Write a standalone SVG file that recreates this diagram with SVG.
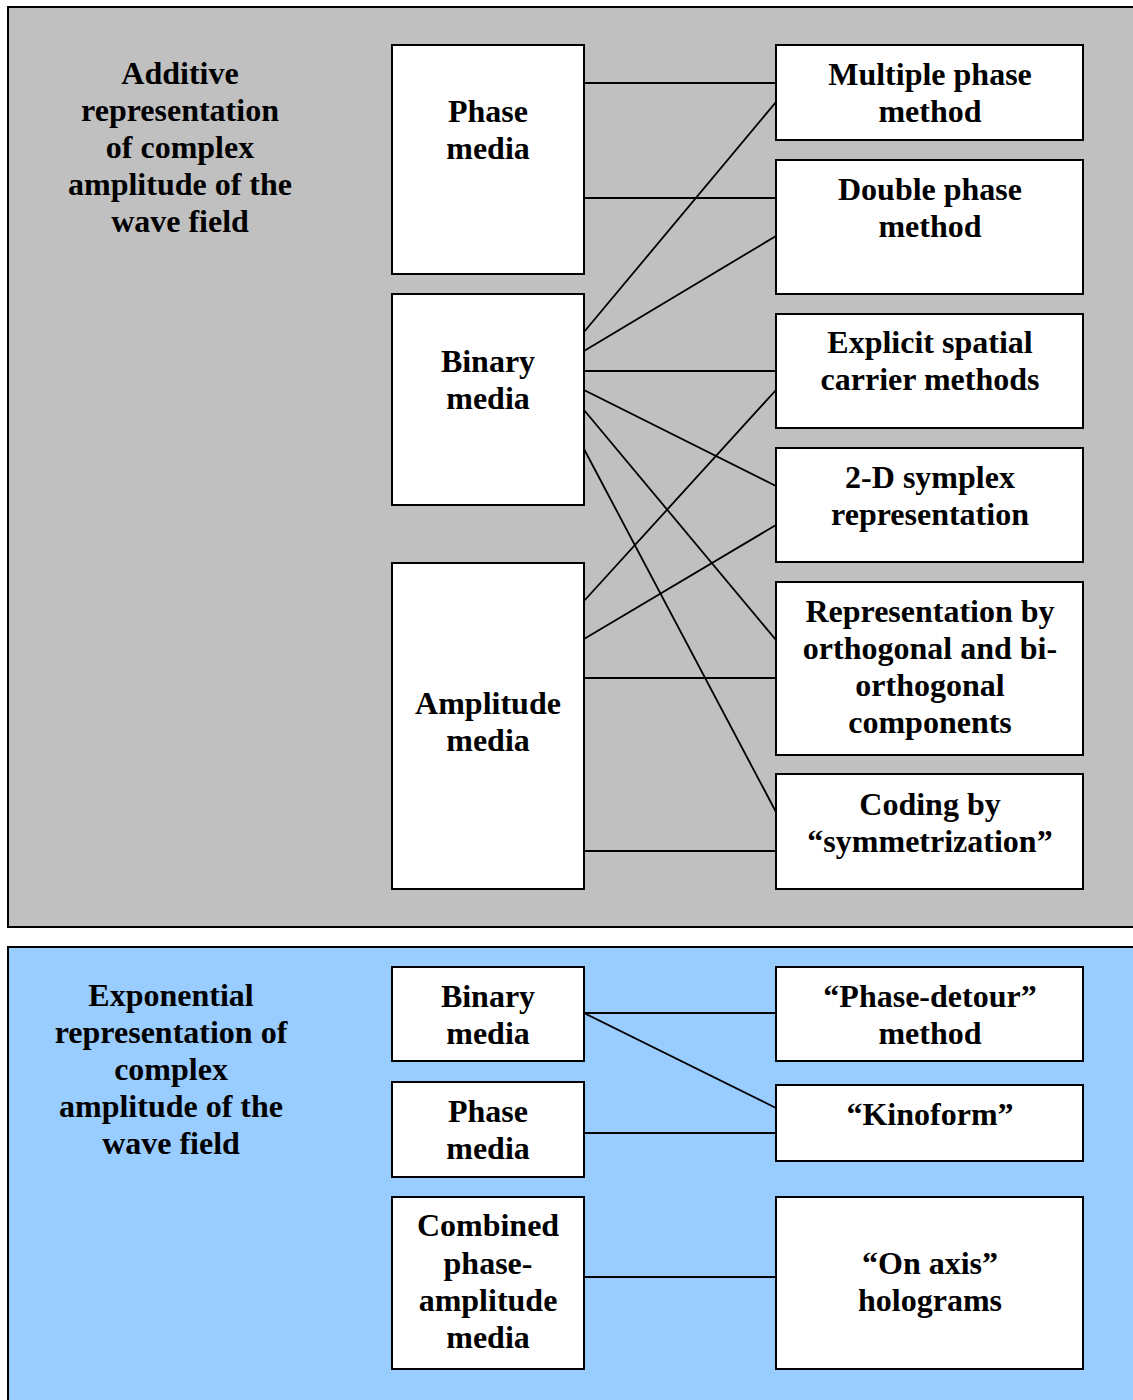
<svg xmlns="http://www.w3.org/2000/svg" width="1133" height="1400" viewBox="0 0 1133 1400">
<style>
.panel{stroke:#000;stroke-width:2}
.box{fill:#fff;stroke:#000;stroke-width:2}
.t{font-family:"Liberation Serif","Times New Roman",serif;font-weight:bold;font-size:32px;text-anchor:middle;fill:#000}
.c line{stroke:#000;stroke-width:1.8}
</style>
<rect width="1133" height="1400" fill="#fff"/>
<g id="panel-additive">
<rect class="panel" x="8" y="7" width="1126" height="920" fill="#C0C0C0"/>
<text class="t"><tspan x="180" y="84">Additive</tspan><tspan x="180" y="121">representation</tspan><tspan x="180" y="158">of complex</tspan><tspan x="180" y="195">amplitude of the</tspan><tspan x="180" y="232">wave field</tspan></text>
</g>
<g id="panel-exponential">
<rect class="panel" x="8" y="947" width="1126" height="460" fill="#99CCFF"/>
<text class="t"><tspan x="171" y="1006">Exponential</tspan><tspan x="171" y="1043">representation of</tspan><tspan x="171" y="1080">complex</tspan><tspan x="171" y="1117">amplitude of the</tspan><tspan x="171" y="1154">wave field</tspan></text>
</g>
<g id="connectors" class="c">
<line x1="584" y1="83" x2="776" y2="83"/>
<line x1="584" y1="198" x2="776" y2="198"/>
<line x1="584" y1="332" x2="776" y2="102"/>
<line x1="584" y1="351" x2="776" y2="236"/>
<line x1="584" y1="371" x2="776" y2="371"/>
<line x1="584" y1="390" x2="776" y2="486"/>
<line x1="584" y1="410" x2="776" y2="640"/>
<line x1="584" y1="449" x2="776" y2="812"/>
<line x1="584" y1="601" x2="776" y2="390"/>
<line x1="584" y1="639" x2="776" y2="525"/>
<line x1="584" y1="678" x2="776" y2="678"/>
<line x1="584" y1="851" x2="776" y2="851"/>
<line x1="584" y1="1013" x2="776" y2="1013"/>
<line x1="584" y1="1013" x2="776" y2="1108"/>
<line x1="584" y1="1133" x2="776" y2="1133"/>
<line x1="584" y1="1277" x2="776" y2="1277"/>
</g>
<g id="phase-media"><rect class="box" x="392" y="45" width="192" height="229"/><text class="t"><tspan x="488" y="122">Phase</tspan><tspan x="488" y="159">media</tspan></text></g>
<g id="binary-media"><rect class="box" x="392" y="294" width="192" height="211"/><text class="t"><tspan x="488" y="372">Binary</tspan><tspan x="488" y="409">media</tspan></text></g>
<g id="amplitude-media"><rect class="box" x="392" y="563" width="192" height="326"/><text class="t"><tspan x="488" y="714">Amplitude</tspan><tspan x="488" y="751">media</tspan></text></g>
<g id="multiple-phase"><rect class="box" x="776" y="45" width="307" height="95"/><text class="t"><tspan x="930" y="85">Multiple phase</tspan><tspan x="930" y="122">method</tspan></text></g>
<g id="double-phase"><rect class="box" x="776" y="160" width="307" height="134"/><text class="t"><tspan x="930" y="200">Double phase</tspan><tspan x="930" y="237">method</tspan></text></g>
<g id="explicit-spatial"><rect class="box" x="776" y="314" width="307" height="114"/><text class="t"><tspan x="930" y="353">Explicit spatial</tspan><tspan x="930" y="390">carrier methods</tspan></text></g>
<g id="symplex"><rect class="box" x="776" y="448" width="307" height="114"/><text class="t"><tspan x="930" y="488">2-D symplex</tspan><tspan x="930" y="525">representation</tspan></text></g>
<g id="orthogonal"><rect class="box" x="776" y="582" width="307" height="173"/><text class="t"><tspan x="930" y="622">Representation by</tspan><tspan x="930" y="659">orthogonal and bi-</tspan><tspan x="930" y="696">orthogonal</tspan><tspan x="930" y="733">components</tspan></text></g>
<g id="symmetrization"><rect class="box" x="776" y="774" width="307" height="115"/><text class="t"><tspan x="930" y="815">Coding by</tspan><tspan x="930" y="852">“symmetrization”</tspan></text></g>
<g id="binary-media-2"><rect class="box" x="392" y="967" width="192" height="94"/><text class="t"><tspan x="488" y="1007">Binary</tspan><tspan x="488" y="1044">media</tspan></text></g>
<g id="phase-media-2"><rect class="box" x="392" y="1082" width="192" height="95"/><text class="t"><tspan x="488" y="1122">Phase</tspan><tspan x="488" y="1159">media</tspan></text></g>
<g id="combined-media"><rect class="box" x="392" y="1197" width="192" height="172"/><text class="t"><tspan x="488" y="1236">Combined</tspan><tspan x="488" y="1274">phase-</tspan><tspan x="488" y="1311">amplitude</tspan><tspan x="488" y="1348">media</tspan></text></g>
<g id="phase-detour"><rect class="box" x="776" y="967" width="307" height="94"/><text class="t"><tspan x="930" y="1007">“Phase-detour”</tspan><tspan x="930" y="1044">method</tspan></text></g>
<g id="kinoform"><rect class="box" x="776" y="1085" width="307" height="76"/><text class="t"><tspan x="930" y="1125">“Kinoform”</tspan></text></g>
<g id="on-axis"><rect class="box" x="776" y="1197" width="307" height="172"/><text class="t"><tspan x="930" y="1274">“On axis”</tspan><tspan x="930" y="1311">holograms</tspan></text></g>
</svg>
